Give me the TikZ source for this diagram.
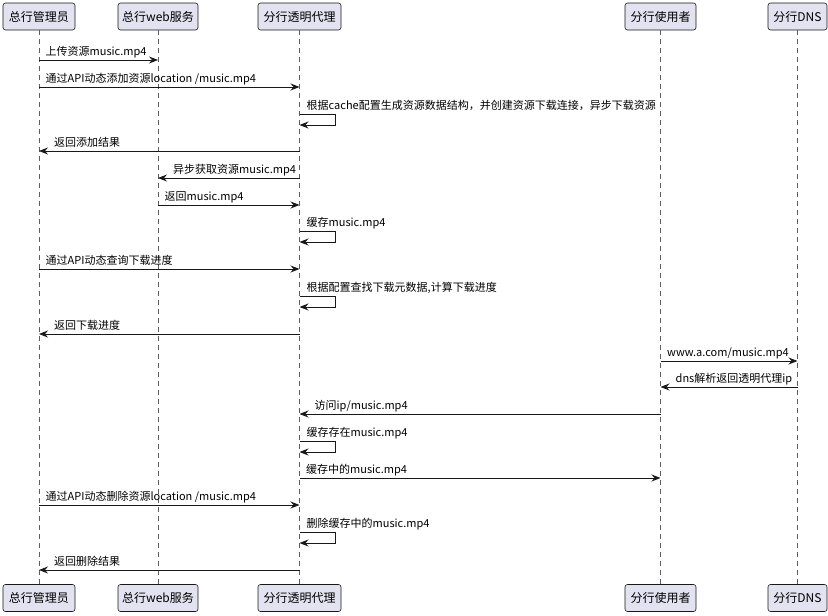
\documentclass[tikz,border=0pt]{standalone}
\usepackage{fontspec}
\setmainfont{Noto Sans CJK SC}
\usetikzlibrary{arrows.meta}
\definecolor{pbox}{HTML}{E2E2F0}
\definecolor{pline}{HTML}{181818}
\newcommand\msgR[4]{\draw[msgline] (#1 |- 0,#3) coordinate (m) -- (#2 |- 0,#3);
  \node[msglbl] at ([xshift=6.5pt,yshift=4.5pt]m) {#4};}
\newcommand\msgL[4]{\draw[msgline] (#1 |- 0,#3) -- (#2 |- 0,#3) coordinate (m);
  \node[msglbl] at ([xshift=15pt,yshift=4.5pt]m) {#4};}
\newcommand\msgS[3]{\draw[msgline] (#1 |- 0,#2) coordinate (m) -- ++(36,0) -- ++(0,11) -- (#1 |- 0,#2+11);
  \node[msglbl] at ([xshift=7pt,yshift=5pt]m) {#3};}
\begin{document}
\begin{tikzpicture}[x=1pt,y=-1pt,
  part/.style={draw=pline,fill=pbox,line width=0.6pt,rounded corners=2.5pt,minimum height=27pt,inner xsep=0pt,font=\fontsize{12}{14}\selectfont,text=black},
  life/.style={draw=pline!70,line width=0.6pt,dash pattern=on 5pt off 4pt},
  msgline/.style={draw=pline,line width=0.9pt,-{Stealth[length=9pt,width=7pt,inset=3pt]}},
  msglbl/.style={font=\fontsize{11}{13}\selectfont,anchor=base west,inner sep=0pt,text=black}]
\useasboundingbox (0,0) rectangle (828,616);
% participants top
\node[part,minimum width=72pt] (adm) at (39,16.5) {总行管理员};
\node[part,minimum width=80pt] (web) at (158,16.5) {总行web服务};
\node[part,minimum width=83pt] (prx) at (299.5,16.5) {分行透明代理};
\node[part,minimum width=71pt] (usr) at (660.5,16.5) {分行使用者};
\node[part,minimum width=59pt] (dns) at (797.5,16.5) {分行DNS};
% participants bottom
\node[part,minimum width=72pt] (admb) at (39,598) {总行管理员};
\node[part,minimum width=80pt] (webb) at (158,598) {总行web服务};
\node[part,minimum width=83pt] (prxb) at (299.5,598) {分行透明代理};
\node[part,minimum width=71pt] (usrb) at (660.5,598) {分行使用者};
\node[part,minimum width=59pt] (dnsb) at (797.5,598) {分行DNS};
% lifelines
\draw[life] (adm.south) -- (admb.north);
\draw[life] (web.south) -- (webb.north);
\draw[life] (prx.south) -- (prxb.north);
\draw[life] (usr.south) -- (usrb.north);
\draw[life] (dns.south) -- (dnsb.north);
% messages
\msgR{adm}{web}{60}{上传资源music.mp4}
\msgR{adm}{prx}{87}{通过API动态添加资源location /music.mp4}
\msgS{prx}{114}{根据cache配置生成资源数据结构，并创建资源下载连接，异步下载资源}
\msgL{prx}{adm}{151}{返回添加结果}
\msgL{prx}{web}{178}{异步获取资源music.mp4}
\msgR{web}{prx}{205}{返回music.mp4}
\msgS{prx}{231}{缓存music.mp4}
\msgR{adm}{prx}{269}{通过API动态查询下载进度}
\msgS{prx}{296}{根据配置查找下载元数据,计算下载进度}
\msgL{prx}{adm}{334}{返回下载进度}
\msgR{usr}{dns}{361}{www.a.com/music.mp4}
\msgL{dns}{usr}{387}{dns解析返回透明代理ip}
\msgL{usr}{prx}{414}{访问ip/music.mp4}
\msgS{prx}{441}{缓存存在music.mp4}
\msgR{prx}{usr}{478}{缓存中的music.mp4}
\msgR{adm}{prx}{505}{通过API动态删除资源location /music.mp4}
\msgS{prx}{532}{删除缓存中的music.mp4}
\msgL{prx}{adm}{570}{返回删除结果}
\end{tikzpicture}
\end{document}
